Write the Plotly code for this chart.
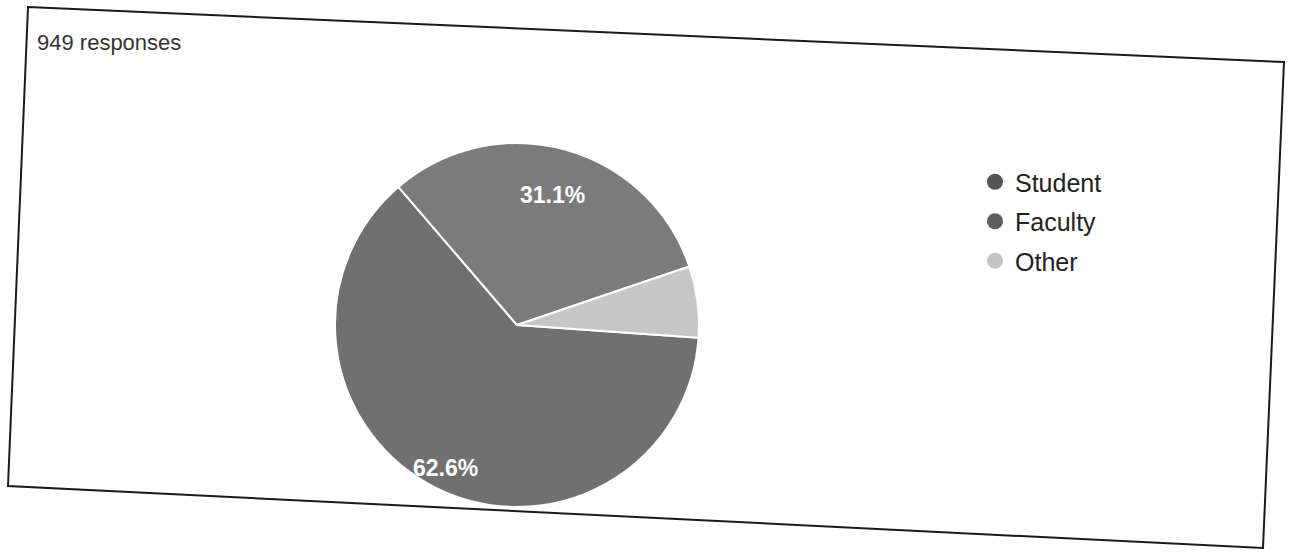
import math
import plotly.graph_objects as go

labels = ["Student", "Faculty", "Other"]
counts = [594, 295, 60]
slice_colors = ["#707070", "#7b7b7b", "#c6c6c6"]
legend_colors = ["#555555", "#5e5e5e", "#c4c4c4"]
total_label = "949 responses"

W, H = 1289, 555
ROTATION = 94
# how far out each percent label sits (fraction of radius); "" = no label
label_radius = [0.88, 0.74, None]


def px(x):
    return x / W


def py(y):
    return 1 - y / H


# pie box in pixels: left, right, bottom, top
pie_l, pie_r, pie_b, pie_t = 335, 699, 507, 143
pie_domain = dict(x=[px(pie_l), px(pie_r)], y=[py(pie_b), py(pie_t)])

fig = go.Figure()

fig.add_trace(go.Pie(
    labels=labels,
    values=counts,
    sort=False,
    direction="clockwise",
    rotation=ROTATION,
    marker=dict(colors=slice_colors, line=dict(color="white", width=2)),
    textinfo="none",
    domain=pie_domain,
    showlegend=False,
    hoverinfo="label+percent",
))

# percent labels, placed on each slice's mid angle like Google Forms does
total = sum(counts)
cx, cy = (pie_l + pie_r) / 2, (pie_b + pie_t) / 2
rad = (pie_r - pie_l) / 2
cum = 0
for v, rf in zip(counts, label_radius):
    mid = math.radians(ROTATION + (cum + v / 2) / total * 360)
    cum += v
    if rf is None:
        continue
    lx = cx + rf * rad * math.sin(mid)
    ly = cy - rf * rad * math.cos(mid)
    fig.add_annotation(
        text=f"<b>{v / total * 100:.1f}%</b>", xref="paper", yref="paper",
        x=px(lx), y=py(ly), xanchor="center", yanchor="middle",
        showarrow=False,
        font=dict(size=23, color="white", family="Liberation Sans"),
    )

# circle markers for the legend, one group each so the gap can be set
for i, (name, col) in enumerate(zip(labels, legend_colors)):
    fig.add_trace(go.Scatter(
        x=[None], y=[None],
        mode="markers",
        name=name,
        legendgroup=f"g{i}",
        marker=dict(symbol="circle", size=16, color=col),
    ))

# slightly rotated frame of the scanned card
frame = (f"M {px(28)},{py(7)} L {px(1284)},{py(62)} "
         f"L {px(1263)},{py(548)} L {px(8)},{py(486)} Z")
fig.add_shape(type="path", path=frame, xref="paper", yref="paper",
              line=dict(color="#1a1a1a", width=2), fillcolor="rgba(0,0,0,0)")

fig.add_annotation(
    text=total_label, xref="paper", yref="paper",
    x=px(35), y=py(42), xanchor="left", yanchor="middle",
    showarrow=False, font=dict(size=22, color="#333333", family="Liberation Sans"),
)

fig.update_layout(
    width=W,
    height=H,
    margin=dict(l=0, r=0, t=0, b=0),
    paper_bgcolor="white",
    plot_bgcolor="white",
    xaxis=dict(visible=False, domain=[0.9, 0.91]),
    yaxis=dict(visible=False, domain=[0.9, 0.91]),
    legend=dict(
        x=px(975), y=py(159), xanchor="left", yanchor="top",
        traceorder="grouped", tracegroupgap=4,
        font=dict(size=25, color="#222222", family="Liberation Sans"),
        bgcolor="rgba(0,0,0,0)",
        itemwidth=30,
    ),
)

fig.write_html(
    "out.html",
    config={"displayModeBar": False},
    post_script="document.body.style.margin = '0px';",
)
